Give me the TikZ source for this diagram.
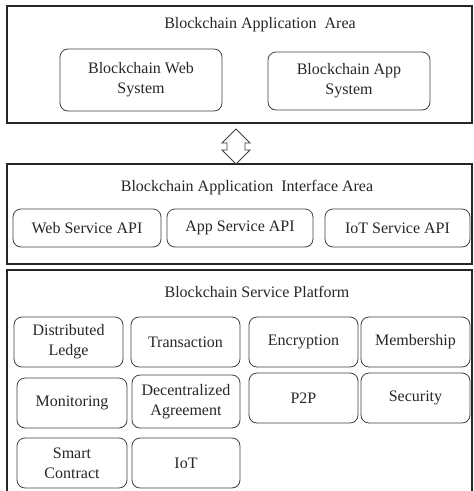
\documentclass[tikz,border=0pt]{standalone}
\usepackage{fontspec}
\setmainfont{Liberation Serif}
\begin{document}
\begin{tikzpicture}[x=1pt,y=-1pt,
  area/.style={draw=black!85, line width=1.3pt},
  item/.style={draw=black!75, line width=0.8pt, rounded corners=8pt, align=center,
    inner sep=0pt, text=black!85, font=\fontsize{16}{20}\selectfont},
  ttl/.style={text=black!85, font=\fontsize{16}{20}\selectfont, inner sep=0pt}]
\useasboundingbox (0,0) rectangle (474,491);
% areas
\draw[area] (7,6) rectangle (472,123);
\draw[area] (7,164) rectangle (472,264);
\draw[area] (7,495) -- (7,270) -- (472,270) -- (472,495);
% titles
\node[ttl] (t1) at (260,25) {Blockchain Application\ \ Area};
\node[ttl] (t2) at (247,188) {Blockchain Application\ \ Interface Area};
\node[ttl] (t3) at (257,292) {Blockchain Service Platform};
% application area
\node[item, minimum width=162pt, minimum height=62pt] (web) at (141,80) {Blockchain Web\\System};
\node[item, minimum width=162pt, minimum height=58pt] (app) at (349,81) {Blockchain App\\System};
% double arrow
\draw[draw=black!75, line width=0.8pt, fill=white]
  (236,129) -- (250,143) -- (245,143) -- (245,150) -- (250,150) -- (236,164)
  -- (222,150) -- (227,150) -- (227,143) -- (222,143) -- cycle;
% interface area
\node[item, minimum width=148pt, minimum height=38pt] (wapi) at (87,228) {Web Service API};
\node[item, minimum width=146pt, minimum height=38pt] (aapi) at (240,228) {App Service API};
\node[item, minimum width=145pt, minimum height=38pt] (iapi) at (397.5,228) {IoT Service API};
% service platform
\node[item, minimum width=109pt, minimum height=50pt] (dl) at (68.5,342) {Distributed\\Ledge};
\node[item, minimum width=109pt, minimum height=50pt] (tr) at (185.5,342) {Transaction};
\node[item, minimum width=109pt, minimum height=50pt] (enc) at (303.5,342) {Encryption};
\node[item, minimum width=109pt, minimum height=50pt] (mem) at (415.5,342) {Membership};
\node[item, minimum width=110pt, minimum height=50pt] (mon) at (72,403) {Monitoring};
\node[item, minimum width=108pt, minimum height=53pt] (dec) at (186,401.5) {Decentralized\\Agreement};
\node[item, minimum width=109pt, minimum height=50pt] (p2p) at (303.5,398) {P2P};
\node[item, minimum width=109pt, minimum height=50pt] (sec) at (415.5,398) {Security};
\node[item, minimum width=110pt, minimum height=50pt] (sc) at (72,463) {Smart\\Contract};
\node[item, minimum width=108pt, minimum height=50pt] (iot) at (186,463) {IoT};
\end{tikzpicture}
\end{document}
